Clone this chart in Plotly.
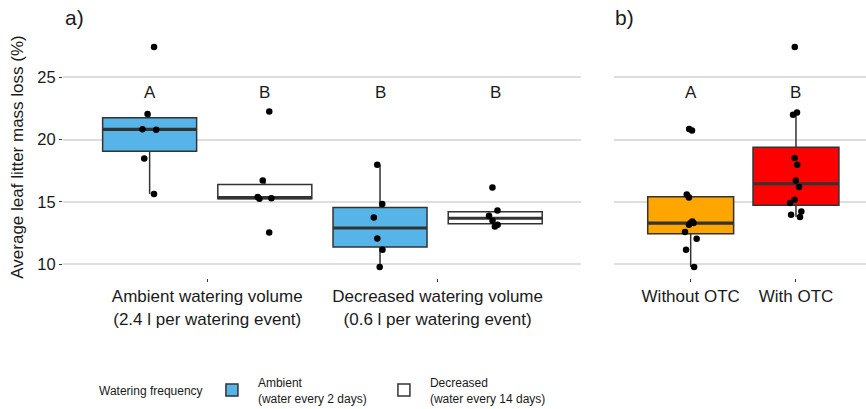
import numpy as np
import plotly.graph_objects as go

# ---------------- data ----------------
# Panel a: watering volume (x) x watering frequency (fill)
volume_labels = ["Ambient watering volume<br>(2.4 l per watering event)",
                 "Decreased watering volume<br>(0.6 l per watering event)"]
freq_names = ["Ambient<br>(water every 2 days)", "Decreased<br>(water every 14 days)"]
freq_colors = ["#56B4E9", "#FFFFFF"]

amb_vol_amb_freq = [27.42, 22.04, 20.83, 20.79, 18.48, 15.63]
amb_vol_dec_freq = [22.25, 16.72, 15.40, 15.30, 15.25, 12.55]
dec_vol_amb_freq = [17.98, 14.83, 13.75, 12.07, 11.16, 9.78]
dec_vol_dec_freq = [16.16, 14.31, 13.89, 13.49, 13.17, 13.03]
letters_a = [["A", "B"], ["B", "B"]]  # [volume][frequency]

# Panel b: OTC treatment
otc_labels = ["Without OTC", "With OTC"]
otc_colors = ["#FFA500", "#FF0000"]
without_otc = [20.84, 20.73, 15.60, 15.36, 13.43, 13.30, 13.30, 13.17, 12.58, 12.04, 11.16, 9.78]
with_otc = [27.42, 22.17, 21.99, 18.52, 17.98, 16.72, 16.19, 15.17, 14.91, 14.23, 13.97, 13.79]
letters_b = ["A", "B"]

y_ticks = [10, 15, 20, 25]
y_title = "Average leaf litter mass loss (%)"
legend_title = "Watering frequency"

# ---------------- styling ----------------
FONT = "Liberation Sans, Arial, sans-serif"
LINE = "#333333"
GRID = "#DEDEDE"
TXT = "#1A1A1A"
LETTER_Y = 23.8
DODGE = 0.25  # offset of dodged boxes (boxgap = 0, two groups)


def stats(v):
    v = np.sort(np.asarray(v, float))
    q1, med, q3 = np.percentile(v, [25, 50, 75])
    iqr = q3 - q1
    lo = v[v >= q1 - 1.5 * iqr].min()
    hi = v[v <= q3 + 1.5 * iqr].max()
    return q1, med, q3, lo, hi


fig = go.Figure()


def add_group(xs, samples, color, name, ogroup, agroup, xaxis, showlegend):
    st = [stats(s) for s in samples]
    q1 = [s[0] for s in st]
    med = [s[1] for s in st]
    q3 = [s[2] for s in st]
    lo = [s[3] for s in st]
    hi = [s[4] for s in st]
    common = dict(offsetgroup=ogroup, alignmentgroup=agroup, xaxis=xaxis, yaxis="y",
                  whiskerwidth=0, hoverinfo="skip")
    fig.add_trace(go.Box(x=xs, q1=q1, median=med, q3=q3, lowerfence=lo, upperfence=hi,
                         fillcolor=color, line=dict(color=LINE, width=1.5), boxpoints=False,
                         name=name, legendgroup=name, showlegend=showlegend, **common))
    fig.add_trace(go.Box(x=xs, q1=med, median=med, q3=med, lowerfence=med, upperfence=med,
                         fillcolor="rgba(0,0,0,0)", line=dict(color=LINE, width=3.2),
                         boxpoints=False, showlegend=False, **common))
    px, py = [], []
    for x, s in zip(xs, samples):
        px += [x] * len(s)
        py += list(s)
    fig.add_trace(go.Box(x=px, y=py, boxpoints="all", jitter=0.18, pointpos=0,
                         fillcolor="rgba(0,0,0,0)", line=dict(color="rgba(0,0,0,0)", width=0),
                         marker=dict(color="black", size=6.5), showlegend=False, **common))


panel_a = [[amb_vol_amb_freq, amb_vol_dec_freq], [dec_vol_amb_freq, dec_vol_dec_freq]]
for j in range(2):
    add_group(volume_labels, [panel_a[i][j] for i in range(2)], freq_colors[j], freq_names[j],
              "a%d" % j, "a", "x", True)

panel_b = [without_otc, with_otc]
for k in range(2):
    add_group([otc_labels[k]], [panel_b[k]], otc_colors[k], otc_labels[k], "b", "b", "x2", False)

annotations = []
for i in range(2):
    for j in range(2):
        annotations.append(dict(x=i + (2 * j - 1) * DODGE, y=LETTER_Y, xref="x", yref="y",
                                text=letters_a[i][j], showarrow=False,
                                font=dict(size=17, color=TXT, family=FONT)))
for k in range(2):
    annotations.append(dict(x=k, y=LETTER_Y, xref="x2", yref="y", text=letters_b[k],
                            showarrow=False, font=dict(size=17, color=TXT, family=FONT)))
annotations.append(dict(x=0, y=1.075, xref="paper", yref="paper", text="a)", showarrow=False,
                        xanchor="left", yanchor="middle", font=dict(size=21, color=TXT, family=FONT)))
annotations.append(dict(x=0.685, y=1.075, xref="paper", yref="paper", text="b)", showarrow=False,
                        xanchor="left", yanchor="middle", font=dict(size=21, color=TXT, family=FONT)))
annotations.append(dict(x=0.0423, y=-0.465, xref="paper", yref="paper", text=legend_title,
                        showarrow=False, xanchor="left", yanchor="middle",
                        font=dict(size=12, color=TXT, family=FONT)))

fig.update_layout(
    width=866, height=409,
    margin=dict(l=63, r=0, t=36, b=131, autoexpand=False),
    paper_bgcolor="white", plot_bgcolor="white",
    font=dict(family=FONT, color=TXT),
    boxmode="group", boxgap=0, boxgroupgap=0.184,
    annotations=annotations,
    xaxis=dict(domain=[0, 0.6447], range=[-0.626, 1.621], showgrid=False, zeroline=False,
               ticks="outside", ticklen=3, tickcolor=LINE, tickwidth=1,
               tickfont=dict(size=17, color=TXT), showline=False, automargin=False),
    xaxis2=dict(domain=[0.6862, 1], range=[-0.728, 1.665], showgrid=False, zeroline=False,
                ticks="outside", ticklen=3, tickcolor=LINE, tickwidth=1,
                tickfont=dict(size=17, color=TXT), showline=False, anchor="y", automargin=False),
    yaxis=dict(range=[8.9, 28.3], tickvals=y_ticks, showgrid=True, gridcolor=GRID, gridwidth=1.5,
               zeroline=False, ticks="outside", ticklen=3, tickcolor=LINE,
               tickfont=dict(size=16.5, color=TXT), automargin=False,
               title=dict(text=y_title, font=dict(size=17, color=TXT), standoff=9)),
    legend=dict(orientation="h", x=0.178, xanchor="left", y=-0.372, yanchor="top",
                font=dict(size=12, color=TXT), entrywidth=115, itemwidth=42),
)
# second panel shares the y scale
fig.update_layout(yaxis2=dict(range=[8.9, 28.3], tickvals=y_ticks, showgrid=True, gridcolor=GRID,
                              gridwidth=1.5, zeroline=False, showticklabels=False, ticks="",
                              anchor="x2", overlaying="y", automargin=False))

fig.write_html("out.html")
